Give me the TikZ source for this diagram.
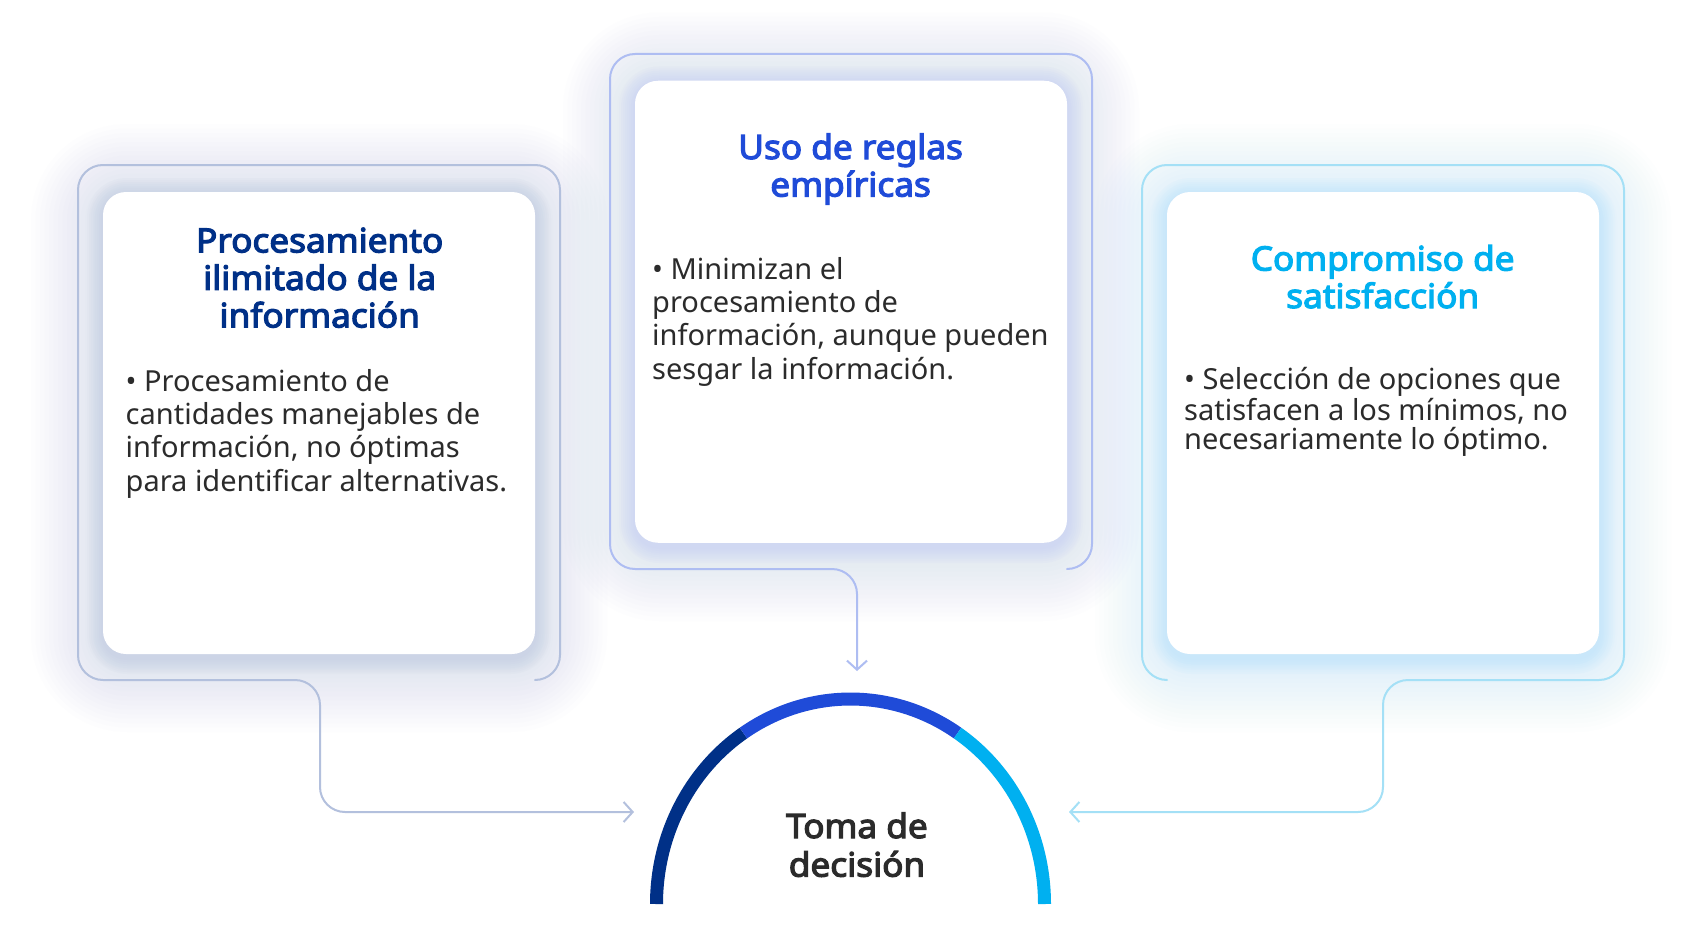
\documentclass[tikz,border=0pt]{standalone}
\usepackage{fontspec}
\setmainfont{Noto Sans}[BoldFont={Noto Sans}, BoldFeatures={FakeBold=3.5, FakeStretch=1.05}]
\usetikzlibrary{arrows.meta,calc}
\definecolor{navy}{HTML}{003087}
\definecolor{royal}{HTML}{1F4BD8}
\definecolor{skyc}{HTML}{00B0F0}
\definecolor{lineL}{HTML}{B3C0DD}
\definecolor{lineM}{HTML}{AEBDF2}
\definecolor{lineR}{HTML}{A4E0F6}
\definecolor{glowL}{HTML}{AEBBDA}
\definecolor{glowM}{HTML}{B4C0F2}
\definecolor{glowR}{HTML}{A8E6FA}
\definecolor{bodytxt}{HTML}{2B2B2B}
\newcommand\glowlayers[5]{%
  \foreach \k in {1,...,16}{%
    \fill[#1, opacity=0.018, rounded corners={24+4.5*\k}]
      ({#2-4.5*\k},{#3-4.5*\k+4}) rectangle ({#4+4.5*\k},{#5+4.5*\k+6});
  }%
  \foreach \k in {1,...,8}{%
    \fill[#1, opacity=0.05, rounded corners={24+2*\k}]
      ({#2-2*\k},{#3-2*\k+2}) rectangle ({#4+2*\k},{#5+2*\k+4});
  }}
\tikzset{
  card/.style={rectangle, rounded corners=23, fill=white, inner sep=0pt,
    minimum width=432, minimum height=462},
  frame/.style={line width=2pt, rounded corners=25, line cap=round},
  tip/.style={-{Straight Barb[length=9pt,width=20pt,line width=2pt]}},
  ttl/.style={font=\bfseries\fontsize{33.5}{37.5}\selectfont, align=center, anchor=base, inner sep=0pt},
  body/.style={font=\fontsize{29}{33.3}\selectfont, text=bodytxt, align=left, anchor=base west, inner sep=0pt},
  seg/.style={line width=13pt, line cap=butt}
}
\begin{document}
\begin{tikzpicture}[x=1pt,y=-1pt]
\useasboundingbox (0,0) rectangle (1682,934);
\fill[white] (0,0) rectangle (1682,934);
% glows
\glowlayers{glowL}{103}{192}{535}{654}
\glowlayers{glowM}{635}{80.5}{1067}{543}
\glowlayers{glowR}{1167}{192}{1599}{654}
% cards
\node[card] (cardL) at (319,423) {};
\node[card] (cardM) at (851,311.75) {};
\node[card] (cardR) at (1383,423) {};
% target points
\coordinate (inL) at (634,812);
\coordinate (inM) at (857,671);
\coordinate (inR) at (1069,812);
% frames with connectors
\draw[frame, lineL, tip] (535,680) -- (560,680) -- (560,165) -- (78,165) -- (78,680) -- (320,680) -- (320,812) -- (inL);
\draw[frame, lineM, tip] (1067,569) -- (1092,569) -- (1092,54) -- (610,54) -- (610,569) -- (857,569) -- (inM);
\draw[frame, lineR, tip] (1167,680) -- (1142,680) -- (1142,165) -- (1624,165) -- (1624,680) -- (1383,680) -- (1383,812) -- (inR);
% titles (base = last line)
\node[ttl, text=navy] (tL) at (319.7,327.4) {Procesamiento\\ilimitado de la\\información};
\node[ttl, text=royal] (tM) at (850.6,196.5) {Uso de reglas\\empíricas};
\node[ttl, text=skyc] (tR) at (1382.7,308) {Compromiso de\\satisfacción};
% bodies
\node[body] (bL) at (125.5,491) {• Procesamiento de\\cantidades manejables de\\información, no óptimas\\para identificar alternativas.};
\node[body] (bM) at (652,379) {• Minimizan el\\procesamiento de\\información, aunque pueden\\sesgar la información.};
\node[body, font=\fontsize{29}{29}\selectfont] (bR) at (1184,449) {• Selección de opciones que\\satisfacen a los mínimos, no\\necesariamente lo óptimo.};
% arc
\draw[seg, navy] (850.5,904) ++(180:194 and 205) arc[start angle=180, end angle=236.5, x radius=194, y radius=205];
\draw[seg, royal] (850.5,904) ++(236.5:194 and 205) arc[start angle=236.5, end angle=303.5, x radius=194, y radius=205];
\draw[seg, skyc] (850.5,904) ++(303.5:194 and 205) arc[start angle=303.5, end angle=360, x radius=194, y radius=205];
\node[font=\bfseries\fontsize{33.5}{38.6}\selectfont, text=bodytxt, align=center, anchor=base, inner sep=0pt] (toma) at (857,876.6) {Toma de\\decisión};
\end{tikzpicture}
\end{document}
